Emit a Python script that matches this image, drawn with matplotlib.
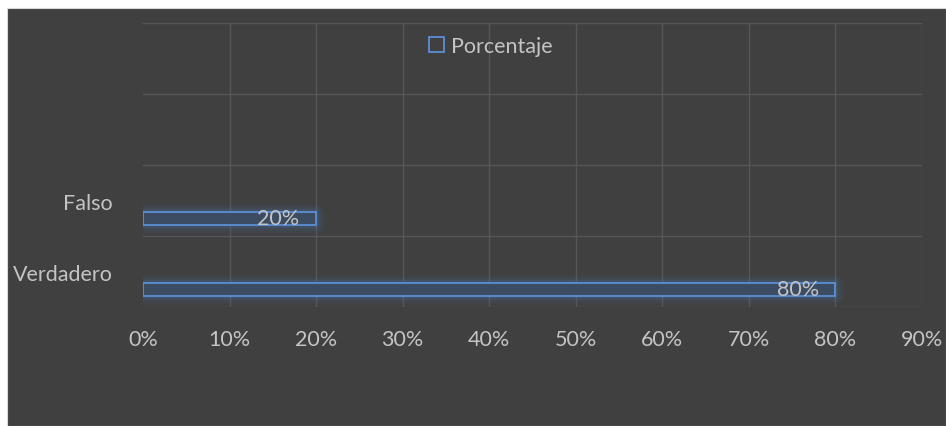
import matplotlib
matplotlib.use("Agg")
import matplotlib.pyplot as plt
from matplotlib.patches import Rectangle
import matplotlib.transforms as mtransforms

plt.rcParams['font.family'] = ['Lato', 'DejaVu Sans']

categories = ["Verdadero", "Falso"]
values = [80, 20]
series_name = "Porcentaje"
x_ticks = [0, 10, 20, 30, 40, 50, 60, 70, 80, 90]
x_tick_labels = [f"{t}%" for t in x_ticks]

W, H = 946, 427
fig = plt.figure(figsize=(W / 100, H / 100), dpi=100)
fig.patch.set_facecolor("white")
fig.add_artist(Rectangle((7 / W, 0), 1 - 7 / W, 1 - 9 / H, transform=fig.transFigure,
                         facecolor="#404040", edgecolor="#d9d9d9", lw=0.8, zorder=0))

x0, x1 = 143, 922
ytop, ybot = 24, 308
ax = fig.add_axes([x0 / W, 1 - ybot / H, (x1 - x0) / W, (ybot - ytop) / H])
ax.set_facecolor("none")
ax.set_xlim(0, 90)
ax.set_ylim(0, 4)

grid_c = "#565656"
for t in x_ticks[1:]:
    ax.axvline(t, color=grid_c, lw=1, zorder=1)
for y in range(0, 5):
    ax.axhline(y, color=grid_c, lw=1, zorder=1)

ypos = [0.25, 1.25]
bh = 0.18
fill = "#3b4c63"
edge = "#5b8fd6"
glow = "#4a78b8"
tc = "#c4c4c4"
fs = 15.5
for yp, v in zip(ypos, values):
    for lw, a in [(12, 0.06), (8, 0.1), (4.5, 0.18)]:
        ax.add_patch(Rectangle((0, yp - bh / 2), v, bh, facecolor="none", edgecolor=glow,
                               lw=lw, alpha=a, zorder=2, joinstyle="round"))
    ax.barh(yp, v, height=bh, color=fill, edgecolor=edge, lw=1.3, zorder=3)
    ax.annotate(f"{v}%", xy=(v, yp), xytext=(-12, 0), textcoords="offset points",
                ha="right", va="center", color=tc, fontsize=fs, zorder=4)

for sp in ax.spines.values():
    sp.set_visible(False)

ax.set_xticks(x_ticks)
ax.set_xticklabels(x_tick_labels, color=tc, fontsize=fs)
ax.tick_params(axis="x", length=0, pad=16)

ax.set_yticks(ypos)
ax.set_yticklabels(categories, color=tc, fontsize=fs)
ax.tick_params(axis="y", length=0, pad=22)
offset = mtransforms.ScaledTranslation(0, 17 / 100, fig.dpi_scale_trans)
for lab in ax.get_yticklabels():
    lab.set_transform(lab.get_transform() + offset)

handle = Rectangle((0, 0), 1, 1, facecolor="none", edgecolor=edge, lw=1.3)
leg = fig.legend([handle], [series_name], loc="center", bbox_to_anchor=(491 / W, 1 - 47 / H),
                 frameon=False, fontsize=fs, handlelength=0.7, handleheight=0.7,
                 handletextpad=0.3, labelcolor=tc)

fig.savefig("out.png", dpi=100, facecolor=fig.get_facecolor())
